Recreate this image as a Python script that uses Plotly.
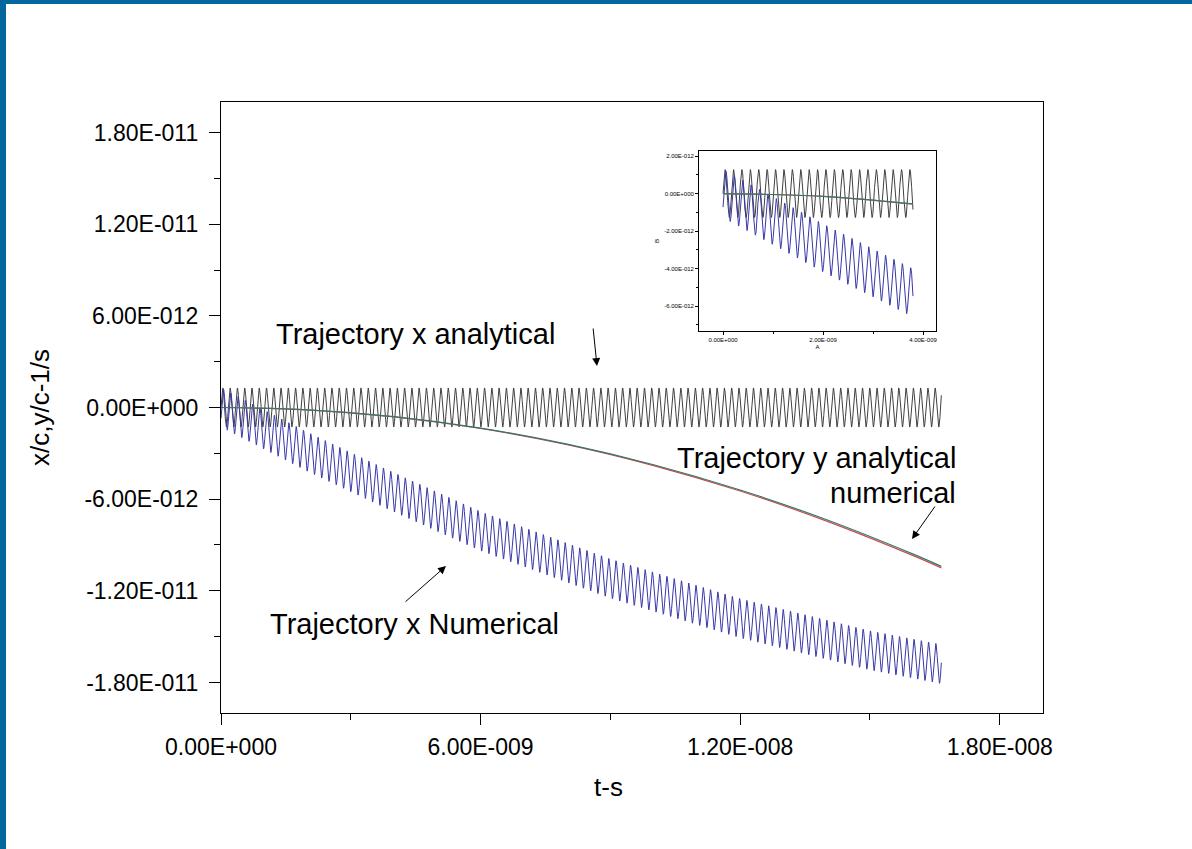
import numpy as np
import plotly.graph_objects as go

# ---- data -----------------------------------------------------------------
# time span of the trajectories (s)
T_END = 1.665e-8
INSET_T_END = 3.8e-9

# transverse oscillation of x
X_AMPLITUDE = 1.28e-12
X_PERIOD = 1.68e-10
X_NUM_PHASE = -0.6

# guiding-centre drift of the numerical x trajectory
drift_t = [0.0, 2e-9, 3.8e-9, 6e-9, 9e-9, 12e-9, 15e-9, 16.65e-9]
drift_x = [0.0, -2.9e-12, -5.3e-12, -8.1e-12, -11.2e-12, -13.8e-12, -15.9e-12, -16.8e-12]

# y trajectories (analytical and numerical)
y_t = [0.0, 2e-9, 4e-9, 6e-9, 8e-9, 10e-9, 12e-9, 14e-9, 16e-9, 16.65e-9]
y_analytical = [0.0, -0.15e-12, -0.6e-12, -1.35e-12, -2.4e-12, -3.75e-12,
                -5.4e-12, -7.35e-12, -9.6e-12, -10.4e-12]
y_numerical = [0.0, -0.15e-12, -0.61e-12, -1.37e-12, -2.43e-12, -3.8e-12,
               -5.47e-12, -7.44e-12, -9.7e-12, -10.5e-12]

# tick labels
main_xticks = [0.0, 6e-9, 1.2e-8, 1.8e-8]
main_xlabels = ["0.00E+000", "6.00E-009", "1.20E-008", "1.80E-008"]
main_yticks = [1.8e-11, 1.2e-11, 6e-12, 0.0, -6e-12, -1.2e-11, -1.8e-11]
main_ylabels = ["1.80E-011", "1.20E-011", "6.00E-012", "0.00E+000",
                "-6.00E-012", "-1.20E-011", "-1.80E-011"]
inset_xticks = [0.0, 2e-9, 4e-9]
inset_xlabels = ["0.00E+000", "2.00E-009", "4.00E-009"]
inset_yticks = [2e-12, 0.0, -2e-12, -4e-12, -6e-12]
inset_ylabels = ["2.00E-012", "0.00E+000", "-2.00E-012", "-4.00E-012", "-6.00E-012"]

# ---- curves ----------------------------------------------------------------
t = np.linspace(0.0, T_END, 6000)
omega = 2 * np.pi / X_PERIOD
x_analytical = X_AMPLITUDE * np.sin(omega * t)
x_numerical = np.interp(t, drift_t, drift_x) + X_AMPLITUDE * np.sin(omega * t + X_NUM_PHASE)

C_XAN = "#404040"
C_XNUM = "#3838a8"
C_YAN = "#2f7a6a"
C_YNUM = "#d24a4a"

FONT = "Liberation Sans, Arial, sans-serif"

fig = go.Figure()


def add_set(xa, ya, t_max):
    m = t <= t_max
    fig.add_trace(go.Scatter(x=t[m], y=x_analytical[m], mode="lines",
                             line=dict(color=C_XAN, width=1), xaxis=xa, yaxis=ya))
    fig.add_trace(go.Scatter(x=t[m], y=x_numerical[m], mode="lines",
                             line=dict(color=C_XNUM, width=1), xaxis=xa, yaxis=ya))
    yt = np.array(y_t)
    keep = yt <= t_max + 1e-15
    ty = list(yt[keep])
    ya_vals = list(np.array(y_analytical)[keep])
    yn_vals = list(np.array(y_numerical)[keep])
    if t_max < y_t[-1]:
        ty.append(t_max)
        ya_vals.append(float(np.interp(t_max, y_t, y_analytical)))
        yn_vals.append(float(np.interp(t_max, y_t, y_numerical)))
    fig.add_trace(go.Scatter(x=ty, y=yn_vals, mode="lines", line_shape="spline",
                             line=dict(color=C_YNUM, width=1.2), xaxis=xa, yaxis=ya))
    fig.add_trace(go.Scatter(x=ty, y=ya_vals, mode="lines", line_shape="spline",
                             line=dict(color=C_YAN, width=1.2), xaxis=xa, yaxis=ya))


add_set("x", "y", T_END)
add_set("x2", "y2", INSET_T_END)

# ---- layout ----------------------------------------------------------------
W, H = 1192, 849
L, R, T, B = 221, 149, 102, 136
PW, PH = W - L - R, H - T - B
XR = [0.0, 1.9e-8]
YR = [-2.0e-11, 2.0e-11]


def px_to_data(px, py):
    x = XR[0] + (px - L) / PW * (XR[1] - XR[0])
    y = YR[1] - (py - T) / PH * (YR[1] - YR[0])
    return x, y


def paper_x(px):
    return (px - L) / PW


def paper_y(py):
    return (T + PH - py) / PH


axis_common = dict(showline=True, mirror=True, linecolor="black", linewidth=1.3,
                   ticks="outside", tickcolor="black", showgrid=False, zeroline=False)

fig.update_layout(
    width=W, height=H,
    margin=dict(l=L, r=R, t=T, b=B),
    paper_bgcolor="white", plot_bgcolor="white",
    showlegend=False,
    font=dict(family=FONT, color="black"),
    xaxis=dict(**axis_common, range=XR, tickmode="array", tickvals=main_xticks,
               ticktext=main_xlabels, ticklen=11, tickwidth=1.3,
               tickfont=dict(size=23), ticklabelstandoff=2,
               minor=dict(tickmode="array", tickvals=[3e-9, 9e-9, 1.5e-8],
                          ticks="outside", ticklen=6, tickcolor="black", tickwidth=1.3)),
    yaxis=dict(**axis_common, range=YR, tickmode="array", tickvals=main_yticks,
               ticktext=main_ylabels, ticklen=11, tickwidth=1.3,
               tickfont=dict(size=23), ticklabelstandoff=6,
               minor=dict(tickmode="array",
                          tickvals=[1.5e-11, 9e-12, 3e-12, -3e-12, -9e-12, -1.5e-11],
                          ticks="outside", ticklen=6, tickcolor="black", tickwidth=1.3)),
    xaxis2=dict(**axis_common, domain=[paper_x(699), paper_x(936)], anchor="y2",
                range=[-0.48e-9, 4.26e-9], tickmode="array", tickvals=inset_xticks,
                ticktext=inset_xlabels, ticklen=3, tickwidth=0.8,
                tickfont=dict(size=6),
                minor=dict(tickmode="array", tickvals=[1e-9, 3e-9], ticks="outside",
                           ticklen=2, tickcolor="black"),
                title=dict(text="A", font=dict(size=6), standoff=2)),
    yaxis2=dict(**axis_common, domain=[paper_y(331), paper_y(151)], anchor="x2",
                range=[-7.33e-12, 2.27e-12], tickmode="array", tickvals=inset_yticks,
                ticktext=inset_ylabels, ticklen=3, tickwidth=0.8,
                tickfont=dict(size=6),
                minor=dict(tickmode="array", tickvals=[1e-12, -1e-12, -3e-12, -5e-12, -7e-12],
                           ticks="outside", ticklen=2, tickcolor="black"),
                title=dict(text="B", font=dict(size=6), standoff=4)),
)
fig.update_xaxes(linewidth=0.8, selector=dict(anchor="y2"))
fig.update_yaxes(linewidth=0.8, selector=dict(anchor="x2"))

# ---- axis titles --------------------------------------------------------------
fig.add_annotation(xref="paper", yref="paper", x=paper_x(608), y=paper_y(787),
                   text="t-s", showarrow=False, xanchor="center", yanchor="middle",
                   font=dict(family=FONT, size=26, color="black"))
fig.add_annotation(xref="paper", yref="paper", x=paper_x(40), y=paper_y(408),
                   text="x/c,y/c-1/s", showarrow=False, textangle=-90,
                   xanchor="center", yanchor="middle",
                   font=dict(family=FONT, size=26, color="black"))

# ---- text labels and arrows -------------------------------------------------
ANN_FONT = dict(family=FONT, size=29, color="black")


def label(text, px, py, anchor="center"):
    x, y = px_to_data(px, py)
    fig.add_annotation(x=x, y=y, text=text, showarrow=False, xanchor=anchor,
                       yanchor="middle", font=ANN_FONT)


def arrow(tip_px, tip_py, tail_px, tail_py):
    x, y = px_to_data(tip_px, tip_py)
    fig.add_annotation(x=x, y=y, ax=tail_px - tip_px, ay=tail_py - tip_py, text="",
                       showarrow=True, arrowhead=2, arrowsize=1.6, arrowwidth=1,
                       arrowcolor="black")


label("Trajectory x analytical", 557, 334, "right")
arrow(597, 366, 593, 327)
label("Trajectory y analytical", 958, 458, "right")
label("numerical", 958, 493, "right")
arrow(912, 539, 936, 505)
label("Trajectory x Numerical", 561, 624, "right")
arrow(446, 566, 404, 603)

# ---- page frame -----------------------------------------------------------------
FRAME = "#03669c"
fig.add_shape(type="rect", xref="paper", yref="paper", layer="above",
              x0=paper_x(0), x1=paper_x(6), y0=paper_y(H), y1=paper_y(0),
              fillcolor=FRAME, line=dict(width=0))
fig.add_shape(type="rect", xref="paper", yref="paper", layer="above",
              x0=paper_x(0), x1=paper_x(W), y0=paper_y(4), y1=paper_y(0),
              fillcolor=FRAME, line=dict(width=0))

fig.write_html("out.html")
